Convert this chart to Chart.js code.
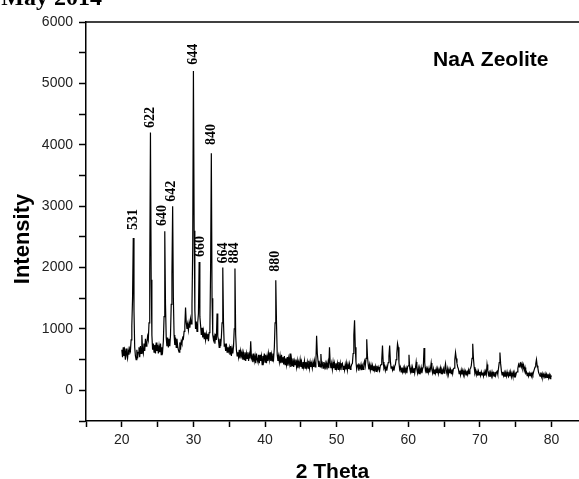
<!DOCTYPE html>
<html>
<head>
<meta charset="utf-8">
<script src="https://cdn.jsdelivr.net/npm/chart.js@4.4.1/dist/chart.umd.min.js"></script>
<style>
  html, body { margin: 0; padding: 0; background: #fff; }
  #wrap { width: 579px; height: 479px; position: relative; }
</style>
</head>
<body>
<div id="wrap"><canvas id="c"></canvas></div>
<script>
// Scan: 2θ from 20.0° to 80.0°, step 0.1° (one row per degree)
const scanStart = 20.0;
const scanStep = 0.1;
const intensity = [
  /*20*/ 660, 540, 700, 560, 640, 500, 680, 580, 520, 650,
  /*21*/ 580, 680, 640, 820, 1050, 1500, 2480, 1300, 700, 560,
  /*22*/ 500, 660, 520, 620, 700, 540, 720, 600, 900, 660,
  /*23*/ 600, 760, 640, 840, 720, 780, 880, 820, 1100, 1900,
  /*24*/ 4200, 1800, 900, 660, 760, 620, 740, 600, 780, 640,
  /*25*/ 740, 600, 720, 620, 760, 580, 700, 640, 800, 1200,
  /*26*/ 2590, 1400, 860, 720, 860, 700, 840, 720, 900, 1400,
  /*27*/ 1900, 3000, 1500, 900, 740, 860, 700, 840, 720, 660,
  /*28*/ 620, 780, 660, 800, 760, 860, 840, 960, 1050, 1350,
  /*29*/ 1100, 1000, 1080, 980, 1100, 1020, 1160, 1080, 1400, 2300,
  /*30*/ 5200, 2600, 1300, 1000, 1120, 960, 1100, 1250, 2090, 1200,
  /*31*/ 1060, 900, 1020, 860, 960, 840, 940, 820, 920, 840,
  /*32*/ 920, 800, 940, 1000, 2000, 3860, 1500, 900, 820, 880,
  /*33*/ 760, 920, 820, 1250, 880, 820, 700, 840, 720, 860,
  /*34*/ 1100, 2000, 1100, 720, 760, 640, 760, 620, 700, 640,
  /*35*/ 700, 580, 720, 560, 680, 600, 720, 1000, 1985, 900,
  /*36*/ 660, 560, 620, 540, 660, 520, 640, 560, 620, 500,
  /*37*/ 600, 500, 620, 480, 600, 520, 620, 480, 580, 520,
  /*38*/ 800, 520, 560, 460, 600, 480, 560, 440, 600, 500,
  /*39*/ 460, 580, 440, 580, 480, 560, 420, 560, 480, 600,
  /*40*/ 460, 580, 440, 560, 480, 600, 500, 620, 480, 580,
  /*41*/ 480, 600, 520, 700, 1100, 1794, 1100, 580, 480, 560,
  /*42*/ 460, 560, 440, 580, 460, 540, 420, 560, 420, 520,
  /*43*/ 420, 540, 400, 520, 440, 600, 380, 500, 400, 520,
  /*44*/ 380, 480, 420, 500, 380, 480, 360, 460, 400, 500,
  /*45*/ 380, 460, 360, 460, 380, 480, 360, 460, 380, 460,
  /*46*/ 360, 480, 360, 460, 380, 440, 360, 460, 380, 480,
  /*47*/ 380, 460, 890, 600, 480, 380, 440, 380, 590, 400,
  /*48*/ 440, 360, 460, 380, 440, 340, 440, 380, 460, 360,
  /*49*/ 700, 440, 360, 440, 340, 460, 360, 440, 340, 440,
  /*50*/ 360, 440, 340, 460, 360, 440, 330, 420, 440, 340,
  /*51*/ 400, 330, 420, 340, 440, 330, 420, 350, 430, 340,
  /*52*/ 380, 420, 440, 600, 900, 1140, 700, 460, 340, 400,
  /*53*/ 420, 320, 400, 360, 420, 330, 400, 340, 440, 480,
  /*54*/ 400, 520, 830, 560, 420, 340, 420, 330, 410, 330,
  /*55*/ 400, 320, 400, 330, 390, 310, 400, 330, 380, 340,
  /*56*/ 320, 400, 420, 500, 730, 460, 360, 390, 320, 380,
  /*57*/ 320, 390, 450, 560, 730, 480, 360, 390, 330, 380,
  /*58*/ 320, 390, 420, 500, 600, 760, 700, 450, 340, 380,
  /*59*/ 300, 370, 300, 360, 280, 370, 300, 360, 280, 380,
  /*60*/ 400, 580, 360, 300, 370, 280, 370, 290, 360, 280,
  /*61*/ 360, 460, 340, 280, 360, 270, 350, 300, 370, 280,
  /*62*/ 350, 380, 690, 450, 320, 360, 280, 350, 290, 360,
  /*63*/ 290, 350, 445, 330, 280, 350, 270, 340, 280, 350,
  /*64*/ 280, 350, 270, 340, 280, 360, 270, 330, 290, 350,
  /*65*/ 280, 360, 435, 320, 270, 350, 260, 340, 280, 340,
  /*66*/ 270, 340, 270, 350, 360, 500, 615, 520, 440, 380,
  /*67*/ 350, 270, 320, 250, 330, 260, 320, 250, 320, 260,
  /*68*/ 310, 250, 320, 260, 330, 270, 340, 360, 400, 520,
  /*69*/ 760, 520, 380, 280, 320, 250, 310, 240, 310, 250,
  /*70*/ 300, 240, 300, 250, 290, 230, 300, 240, 310, 260,
  /*71*/ 420, 330, 250, 290, 220, 290, 230, 300, 240, 280,
  /*72*/ 230, 300, 240, 290, 310, 260, 360, 450, 615, 430,
  /*73*/ 320, 250, 300, 240, 290, 220, 290, 230, 300, 240,
  /*74*/ 220, 290, 230, 300, 220, 280, 230, 290, 220, 280,
  /*75*/ 240, 290, 300, 360, 420, 380, 440, 450, 380, 430,
  /*76*/ 360, 410, 320, 370, 280, 300, 240, 290, 230, 280,
  /*77*/ 240, 290, 230, 280, 250, 300, 340, 380, 430, 500,
  /*78*/ 400, 360, 290, 260, 230, 290, 220, 270, 210, 260,
  /*79*/ 220, 270, 200, 260, 210, 270, 200, 250, 190, 240,
  /*80*/ 220
];
const twoTheta = intensity.map((_, i) => +(scanStart + i * scanStep).toFixed(1));

// Miller-index labels of the main reflections
const peakLabels = ['531', '622', '640', '642', '644', '660', '840', '664', '884', '880'];
const peakLabelX = [21.58, 24.0, 25.63, 26.94, 29.96, 31.03, 32.53, 34.25, 35.78, 41.51];
const peakLabelY = [2610, 4274, 2675, 3072, 5302, 2170, 3997, 2067, 2067, 1930];

const xTickValues = [15, 20, 25, 30, 35, 40, 45, 50, 55, 60, 65, 70, 75, 80];
const yTickValues = [-500, 0, 500, 1000, 1500, 2000, 2500, 3000, 3500, 4000, 4500, 5000, 5500, 6000];

const sampleName = 'NaA Zeolite';
const xTitle = '2 Theta';
const yTitle = 'Intensity';
const headerText = 'May 2014';

const textPlugin = {
  id: 'texts',
  afterDraw(chart) {
    const ctx = chart.ctx;
    const a = chart.chartArea;
    const xs = chart.scales.x, ys = chart.scales.y;
    ctx.save();
    // top frame line
    ctx.strokeStyle = '#000';
    ctx.lineWidth = 1.5;
    ctx.beginPath();
    ctx.moveTo(a.left, a.top);
    ctx.lineTo(a.right, a.top);
    ctx.stroke();

    // peak labels
    ctx.fillStyle = '#000';
    ctx.font = 'bold 14px "Liberation Serif", "Times New Roman", serif';
    ctx.textAlign = 'left';
    ctx.textBaseline = 'middle';
    for (let i = 0; i < peakLabels.length; i++) {
      const px = xs.getPixelForValue(peakLabelX[i]);
      const py = ys.getPixelForValue(peakLabelY[i]);
      ctx.save();
      ctx.translate(px, py);
      ctx.rotate(-Math.PI / 2);
      ctx.fillText(peakLabels[i], 0, 0);
      ctx.restore();
    }

    // sample name
    ctx.font = 'bold 21px "Liberation Sans", Arial, sans-serif';
    ctx.textAlign = 'left';
    ctx.textBaseline = 'alphabetic';
    ctx.fillText(sampleName, 433, 65.5);

    // axis titles
    ctx.textAlign = 'center';
    ctx.fillText(xTitle, (a.left + a.right) / 2, 478);
    ctx.save();
    ctx.translate(28.5, 239);
    ctx.rotate(-Math.PI / 2);
    ctx.font = 'bold 22px "Liberation Sans", Arial, sans-serif';
    ctx.fillText(yTitle, 0, 0);
    ctx.restore();

    // header fragment
    ctx.font = 'bold 24px "Liberation Serif", "Times New Roman", serif';
    ctx.textAlign = 'right';
    ctx.fillText(headerText, 102, 5);
    ctx.restore();
  }
};

new Chart(document.getElementById('c'), {
  type: 'line',
  data: {
    labels: twoTheta,
    datasets: [{
      data: intensity,
      borderColor: '#000',
      borderWidth: 1.2,
      pointRadius: 0,
      tension: 0,
      fill: false
    }]
  },
  options: {
    responsive: true,
    maintainAspectRatio: false,
    animation: false,
    devicePixelRatio: 1,
    layout: { padding: { left: 0, right: 0, top: 22, bottom: 0 } },
    plugins: { legend: { display: false }, tooltip: { enabled: false }, title: { display: false } },
    scales: {
      x: {
        type: 'linear',
        min: 15,
        max: 83.84,
        afterBuildTicks(scale) { scale.ticks = xTickValues.map(v => ({ value: v })); },
        afterFit(scale) { scale.height = 58; },
        grid: { drawOnChartArea: false, drawTicks: true, tickLength: 6, tickColor: '#000', tickWidth: 1.5 },
        border: { display: true, color: '#000', width: 1.5 },
        ticks: {
          maxRotation: 0, autoSkip: false, padding: 5, color: '#222',
          font: { family: '"Liberation Sans", Arial, sans-serif', size: 14 },
          callback: v => (v % 10 === 0 && v >= 20) ? String(v) : ''
        }
      },
      y: {
        type: 'linear',
        min: -500,
        max: 6000,
        afterBuildTicks(scale) { scale.ticks = yTickValues.map(v => ({ value: v })); },
        afterFit(scale) { scale.width = 86; },
        grid: { drawOnChartArea: false, drawTicks: true, tickLength: 7, tickColor: '#000', tickWidth: 1.5 },
        border: { display: true, color: '#000', width: 1.5 },
        ticks: {
          autoSkip: false, padding: 6, color: '#222',
          font: { family: '"Liberation Sans", Arial, sans-serif', size: 14 },
          callback: v => (v % 1000 === 0 && v >= 0) ? String(v) : ''
        }
      }
    }
  },
  plugins: [textPlugin]
});
</script>
</body>
</html>
